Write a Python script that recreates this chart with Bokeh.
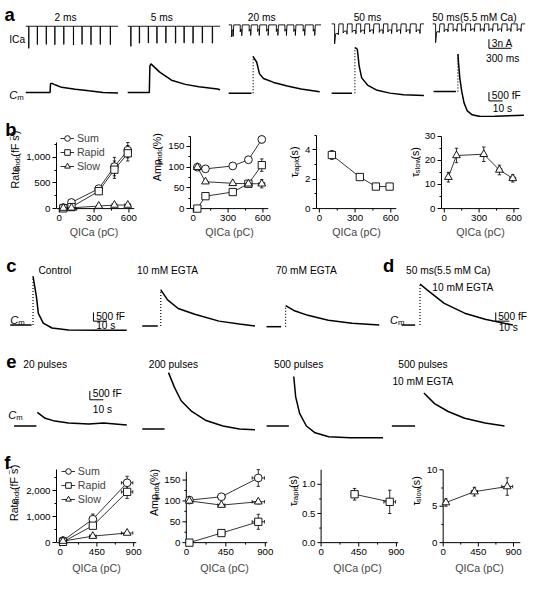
import math
from bokeh.plotting import figure
from bokeh.layouts import column, row
from bokeh.models import (Range1d, Label, ColumnDataSource, Whisker, TeeHead,
                          FixedTicker, NumeralTickFormatter, Legend, LegendItem)
from bokeh.embed import file_html
from bokeh.resources import INLINE

S = 0.971
FONT = "Liberation Sans"
WREF = 553

# ======================= DATA =======================
# ---- panel a : Ca current trains (ms, nA)
a_titles = ["2 ms", "5 ms", "20 ms", "50 ms", "50 ms(5.5 mM Ca)"]
ica_onset_ms = [40, 155, 275, 390, 510, 640, 755, 875, 1000, 1135]
ica_len_ms = 1240
ica_width_ms = [2, 5, 20, 50, 50]
ica_peak_nA = [
    [-7.3, -6.1, -6.0, -6.1, -6.0, -6.2, -6.0, -6.1, -6.0, -6.1],
    [-6.6, -5.6, -5.5, -5.6, -5.5, -5.6, -5.5, -5.6, -5.5, -5.6],
    [-4.0, -2.3, -2.1, -2.2, -2.1, -2.2, -2.1, -2.2, -2.1, -2.1],
    [-6.6, -3.0, -2.8, -2.8, -2.7, -2.8, -2.7, -2.7, -2.7, -2.7],
    [-6.2, -2.6, -2.4, -2.4, -2.3, -2.4, -2.3, -2.3, -2.3, -2.3],
]
ica_plateau_nA = [
    [-7.3, -6.1, -6.0, -6.1, -6.0, -6.2, -6.0, -6.1, -6.0, -6.1],
    [-6.6, -5.6, -5.5, -5.6, -5.5, -5.6, -5.5, -5.6, -5.5, -5.6],
    [-1.7, -1.5, -1.5, -1.5, -1.5, -1.5, -1.5, -1.5, -1.5, -1.5],
    [-3.2, -2.4, -2.2, -2.1, -2.0, -2.0, -2.0, -2.0, -2.0, -2.0],
    [-2.6, -1.9, -1.8, -1.8, -1.7, -1.7, -1.7, -1.7, -1.7, -1.7],
]
ica_tail_nA = [
    [0, 0, 0, 0, 0, 0, 0, 0, 0, 0],
    [0, 0, 0, 0, 0, 0, 0, 0, 0, 0],
    [-3.8, -3.6, -3.5, -3.5, -3.5, -3.5, -3.5, -3.5, -3.5, -3.5],
    [-3.6, -3.4, -3.3, -3.3, -3.2, -3.2, -3.2, -3.2, -3.2, -3.2],
    [-2.8, -2.6, -2.5, -2.5, -2.5, -2.5, -2.5, -2.5, -2.5, -2.5],
]

# ---- panel a : membrane capacitance (s, fF)
a_cm_pre_end_s = [17.9, 15.9, 16.8, 15.0, 16.4]
a_cm_rise = ["solid", "solid", "dotted", "dotted", "dotted"]
a_cm_t = [
    [18.2, 19.3, 22.0, 26.4, 36.4, 46.4, 56.8, 67.9],
    [16.3, 17.1, 23.3, 32.2, 42.4, 52.4, 66.0, 67.9],
    [18.0, 18.6, 20.6, 22.6, 25.6, 33.1, 43.1, 53.2, 65.7, 67.0],
    [17.1, 18.0, 18.9, 20.2, 22.1, 26.4, 32.8, 42.9, 52.9, 67.9],
    [17.9, 18.3, 19.3, 20.7, 22.4, 24.8, 28.4, 34.3, 45.0, 66.4],
]
a_cm_fF = [
    [500, 520, 420, 290, 180, 90, 0, -30],
    [1500, 1630, 1170, 700, 460, 330, 200, 150],
    [2090, 2000, 1760, 1110, 830, 610, 410, 240, 95, 70],
    [2590, 2560, 2500, 1570, 870, 460, 180, 0, -90, -130],
    [2130, 1670, 740, 0, -650, -1110, -1330, -1430, -1410, -1350],
]

# ---- panel c / d : capacitance (s, fF)
c_titles = ["Control", "10 mM EGTA", "70 mM EGTA"]
c_cm_pre_end_s = [15.7, 11.4, 10.7]
c_cm_t = [
    [16.8, 19.3, 20.7, 24.3, 30.7, 42.9, 64.3, 85.7],
    [13.6, 18.6, 26.4, 38.6, 56.4, 71.4, 82.9],
    [14.0, 20.0, 30.4, 45.4, 62.9, 82.9],
]
c_cm_fF = [
    [2780, 1610, 670, 110, -170, -280, -300, -300],
    [2070, 1500, 1000, 670, 280, 110, 0],
    [1200, 930, 650, 370, 200, 90],
]
d_titles = ["50 ms(5.5 mM Ca)", "10 mM EGTA"]
d_cm_pre_end_s = 10.0
d_cm_t = [13.6, 19.0, 31.4, 46.4, 61.4, 81.9]
d_cm_fF = [2350, 2000, 1240, 680, 330, 0]

# ---- panel e : capacitance (s, fF)
e_titles = ["20 pulses", "200 pulses", "500 pulses", "500 pulses"]
e_cm_pre_end_s = [16.4, 16.4, 16.4, 17.1]
e_cm_t = [
    [17.1, 22.9, 30.0, 40.0, 55.0, 65.7, 82.9],
    [19.3, 23.6, 28.6, 36.4, 46.4, 59.3, 71.4, 82.9],
    [20.0, 21.4, 24.3, 29.3, 35.7, 45.7, 61.4, 85.7],
    [23.6, 31.4, 41.4, 53.6, 68.6, 82.9],
]
e_cm_fF = [
    [780, 440, 280, 170, 110, 170, 55],
    [3220, 2390, 1610, 1000, 500, 170, 0, -55],
    [2830, 1670, 720, 0, -390, -610, -670, -670],
    [1890, 1280, 830, 440, 170, 0],
]

# scale bars
sb_ica_nA, sb_ica_ms = 3, 300
sb_cm_fF, sb_cm_s = 500, 10

# ---- panel b
qica_b = [35, 105, 340, 475, 590]
qica_b_err = [0, 0, 0, 20, 25]
b_rate_sum = [20, 120, 390, 820, 1140]
b_rate_sum_err = [10, 15, 30, 180, 150]
b_rate_rapid = [5, 30, 340, 760, 1080]
b_rate_rapid_err = [5, 10, 30, 170, 150]
b_rate_slow = [10, 15, 50, 70, 70]
b_rate_slow_err = [5, 5, 10, 15, 20]
b_amp_sum = [100, 96, 103, 118, 167]
b_amp_sum_err = [5, 3, 3, 5, 8]
b_amp_rapid = [0, 30, 40, 60, 105]
b_amp_rapid_err = [0, 3, 3, 5, 15]
b_amp_slow = [100, 65, 61, 60, 60]
b_amp_slow_err = [5, 3, 3, 5, 10]
qica_b_rapid = [105, 340, 475, 590]
qica_b_rapid_err = [0, 0, 20, 25]
b_tau_rapid = [3.65, 2.15, 1.5, 1.5]
b_tau_rapid_err = [0.3, 0.15, 0.1, 0.1]
b_tau_slow = [13, 22, 22.5, 16, 12.5]
b_tau_slow_err = [2, 3, 3, 2, 1.5]

# ---- panel f
qica_f = [35, 400, 820]
qica_f_err = [5, 40, 70]
f_rate_sum = [80, 900, 2300]
f_rate_sum_err = [20, 200, 250]
f_rate_rapid = [30, 650, 1950]
f_rate_rapid_err = [10, 100, 250]
f_rate_slow = [60, 250, 370]
f_rate_slow_err = [10, 40, 40]
f_amp_sum = [102, 110, 155]
f_amp_sum_err = [4, 5, 20]
f_amp_rapid = [0, 23, 50]
f_amp_rapid_err = [0, 4, 18]
f_amp_slow = [100, 90, 98]
f_amp_slow_err = [4, 4, 5]
qica_f_rapid = [400, 820]
qica_f_rapid_err = [40, 70]
f_tau_rapid = [0.83, 0.70]
f_tau_rapid_err = [0.1, 0.2]
f_tau_slow = [5.5, 7.0, 7.7]
f_tau_slow_err = [0.5, 0.6, 1.2]

# ======================= HELPERS =======================
CHAR_W = {' ': 278, '(': 333, ')': 333, '%': 889, '\u2212': 584, '1': 556, 'R': 722,
          'a': 556, 't': 278, 'e': 556, 'n': 556, 'd': 556, 'o': 556, 'f': 278,
          'F': 611, 's': 500, 'A': 667, 'm': 833, 'p': 556, 'r': 333, 'i': 222,
          'l': 222, 'w': 722, '\u03c4': 440, 'C': 722, 'c': 500}


def tw(text, size):
    return sum(CHAR_W.get(ch, 556) for ch in text) / 1000.0 * size


def fs(size):
    return f"{size * S:.2f}px"


def lab(p, x, y, text, size=10.5, align="left", baseline="middle", style="normal",
        units="data", angle=0.0):
    p.add_layout(Label(x=x, y=y, text=text, x_units=units, y_units=units,
                       text_font=FONT, text_font_size=fs(size), text_align=align,
                       text_baseline=baseline, text_font_style=style, angle=angle,
                       text_color="black"))


def cm_label(p, x, y):
    lab(p, x, y, "C", size=11.5, style="italic", baseline="alphabetic")
    lab(p, x + tw("C", 11.5), y + 2.5, "m", size=8, baseline="alphabetic")


def canvas_fig(x0, x1, top, bottom):
    p = figure(width=round(x1 * S) - round(x0 * S), height=round(bottom * S) - round(top * S),
               x_range=Range1d(x0, x1), y_range=Range1d(bottom, top),
               x_axis_type=None, y_axis_type=None, output_backend="svg",
               toolbar_location=None, min_border=0)
    p.outline_line_color = None
    return p


def add_ranges(p, name, ox, oy, kx, ky, top, bottom):
    p.extra_x_ranges[name] = Range1d(start=-ox / kx, end=(WREF - ox) / kx)
    p.extra_y_ranges[name] = Range1d(start=(oy - bottom) / ky, end=(oy - top) / ky)


CM_KX, CM_KY = 1.4, 0.018
ICA_KX, ICA_KY = 0.0767, 3.1


def draw_cm(p, name, pre_end, rise, t, v):
    kw = dict(x_range_name=name, y_range_name=name, line_color="black", line_width=1.5)
    if rise == "solid":
        p.line([0, pre_end] + list(t), [0, 0] + list(v), **kw)
    else:
        p.line([0, pre_end], [0, 0], **kw)
        if rise == "dotted":
            p.line([t[0], t[0]], [0, v[0]], x_range_name=name, y_range_name=name,
                   line_color="black", line_width=1.2, line_dash="1 2")
        p.line(list(t), list(v), **kw)


def build_ica(k):
    w = ica_width_ms[k]
    t, v = [0.0], [0.0]
    for o, pk, pl, tl in zip(ica_onset_ms, ica_peak_nA[k], ica_plateau_nA[k], ica_tail_nA[k]):
        t += [o, o, o + 0.3 * w, o + w, o + w, o + w + 8]
        v += [0, pk, pl, pl, tl, 0]
    t.append(ica_len_ms)
    v.append(0)
    return t, v


def scale_bar(p, name, cx, cy, kx, ky, dx, dy, top, bottom):
    add_ranges(p, name, cx, cy, kx, ky, top, bottom)
    p.line([0, 0, dx], [dy, 0, 0], x_range_name=name, y_range_name=name,
           line_color="black", line_width=1)


# ======================= PANEL A =======================
A_TOP, A_BOT = 0, 120
pa = canvas_fig(0, WREF, A_TOP, A_BOT)
A_CM_ORIGIN = [(26, 94.3), (131, 94.3), (235, 95.0), (341, 95.0), (446, 93.3)]
A_ICA_ORIGIN = [(26, 26.4), (131, 26.4), (235, 25.0), (341, 24.0), (445, 24.0)]
A_TITLE_X = [67, 166, 269, 378, 488]
for k in range(5):
    nm = f"ica{k}"
    add_ranges(pa, nm, A_ICA_ORIGIN[k][0], A_ICA_ORIGIN[k][1], ICA_KX, ICA_KY, A_TOP, A_BOT)
    t, v = build_ica(k)
    pa.line(t, v, x_range_name=nm, y_range_name=nm, line_color="black", line_width=0.9)
    nm = f"acm{k}"
    add_ranges(pa, nm, A_CM_ORIGIN[k][0], A_CM_ORIGIN[k][1], CM_KX, CM_KY, A_TOP, A_BOT)
    draw_cm(pa, nm, a_cm_pre_end_s[k], a_cm_rise[k], a_cm_t[k], a_cm_fF[k])
    lab(pa, A_TITLE_X[k], 17, a_titles[k], align="center")
lab(pa, 4, 14, "a", size=19, style="bold", baseline="alphabetic")
lab(pa, 9, 40, "ICa")
cm_label(pa, 9, 97)
scale_bar(pa, "sb_a1", 503, 49, ICA_KX, ICA_KY, sb_ica_ms, sb_ica_nA, A_TOP, A_BOT)
lab(pa, 506, 44, "3n A")
lab(pa, 500, 59, "300 ms")
scale_bar(pa, "sb_a2", 503, 103, CM_KX, CM_KY, sb_cm_s, sb_cm_fF, A_TOP, A_BOT)
lab(pa, 506, 97.5, "500 fF")
lab(pa, 507, 111, "10 s")

# ======================= PANELS C, D, E =======================
M_TOP, M_BOT = 250, 455
pm = canvas_fig(0, WREF, M_TOP, M_BOT)
C_ORIGIN = [(10, 334), (146, 335), (274, 335.7)]
C_TITLE_X = [56, 172, 315]
for k in range(3):
    nm = f"c{k}"
    add_ranges(pm, nm, C_ORIGIN[k][0], C_ORIGIN[k][1], CM_KX, CM_KY, M_TOP, M_BOT)
    draw_cm(pm, nm, c_cm_pre_end_s[k], "dotted", c_cm_t[k], c_cm_fF[k])
    lab(pm, C_TITLE_X[k], 278, c_titles[k], align="center")
D_ORIGIN = (413, 334)
add_ranges(pm, "d0", D_ORIGIN[0], D_ORIGIN[1], CM_KX, CM_KY, M_TOP, M_BOT)
draw_cm(pm, "d0", d_cm_pre_end_s, "dotted", d_cm_t, d_cm_fF)
lab(pm, 461, 278, d_titles[0], align="center")
lab(pm, 476, 295, d_titles[1], align="center")
E_ORIGIN = [(14, 438), (146, 441), (274, 438), (403, 438)]
E_TITLE_X = [46, 178, 307, 435]
for k in range(4):
    nm = f"e{k}"
    add_ranges(pm, nm, E_ORIGIN[k][0], E_ORIGIN[k][1], CM_KX, CM_KY, M_TOP, M_BOT)
    draw_cm(pm, nm, e_cm_pre_end_s[k], "none", e_cm_t[k], e_cm_fF[k])
    lab(pm, E_TITLE_X[k], 375, e_titles[k], align="center")
lab(pm, 435, 392, "10 mM EGTA", align="center")
lab(pm, 6, 273, "c", size=19, style="bold", baseline="alphabetic")
lab(pm, 394, 273, "d", size=19, style="bold", baseline="alphabetic")
lab(pm, 6, 372, "e", size=19, style="bold", baseline="alphabetic")
cm_label(pm, 10, 329)
cm_label(pm, 401, 329)
cm_label(pm, 8, 427)
scale_bar(pm, "sb_c", 95.7, 330, CM_KX, CM_KY, sb_cm_s, sb_cm_fF, M_TOP, M_BOT)
lab(pm, 98.5, 325, "500 fF")
lab(pm, 98.5, 334.5, "10 s")
scale_bar(pm, "sb_d", 510, 330, CM_KX, CM_KY, sb_cm_s, sb_cm_fF, M_TOP, M_BOT)
lab(pm, 512.5, 325, "500 fF")
lab(pm, 513, 337, "10 s")
scale_bar(pm, "sb_e", 92, 411, CM_KX, CM_KY, sb_cm_s, sb_cm_fF, M_TOP, M_BOT)
lab(pm, 95, 405, "500 fF")
lab(pm, 95, 421, "10 s")

# ======================= SMALL PLOTS =======================
RATE = [("Rate", 11, 0), ("endo", 8, 2.5), (" (fF s", 11, 0), ("\u22121", 8, -4.5), (")", 11, 0)]
AMP = [("Amp", 11, 0), ("endo", 8, 2.5), (" (%)", 11, 0)]
TRAP = [("\u03c4", 11, 0), ("rapid", 8, 2.5), (" (s)", 11, 0)]
TSLO = [("\u03c4", 11, 0), ("slow", 8, 2.5), (" (s)", 11, 0)]


def vlabel(p, segs, xbase, cy):
    """Rotated label built from pieces; data units are reference pixels (y downward)."""
    total = sum(tw(t, s) for t, s, _ in segs)
    y = cy + total / 2
    for text, size, shift in segs:
        stripped = text.lstrip(" ")
        lead = tw(text[:len(text) - len(stripped)], size)
        lab(p, xbase + shift, y - lead, stripped, size=size, baseline="alphabetic",
            angle=math.pi / 2)
        y -= tw(text, size)


def small_pair(cfg, row_top, row_bot):
    s0, s1 = cfg["slice"]
    le = cfg["lab_end"]
    lf = canvas_fig(s0, le, row_top, row_bot)
    vlabel(lf, cfg["ylab"], cfg["ylab_x"], cfg["ylab_y"])

    fl, fr, ft, y0 = cfg["fl"], cfg["fr"], cfg["ft"], cfg["y0"]
    fb = y0 + 5
    ftop = row_top + 3
    ytop = cfg["ytop"]
    ky = (y0 - ft) / ytop
    xs, xe = cfg["xr"]
    kx = (fr - fl) / (xe - xs)
    p = figure(width=round(s1 * S) - round(le * S),
               height=round(row_bot * S) - round(row_top * S),
               x_range=Range1d(xs, xe), y_range=Range1d(-5 / ky, (y0 - ftop) / ky),
               min_border_left=round(fl * S) - round(le * S),
               min_border_right=round(s1 * S) - round(fr * S),
               min_border_top=round(ftop * S) - round(row_top * S),
               min_border_bottom=round(row_bot * S) - round(fb * S),
               output_backend="svg", toolbar_location=None)
    p.grid.visible = False
    p.outline_line_color = None
    for ax in p.axis:
        ax.major_label_text_font = FONT
        ax.major_label_text_font_size = fs(10)
        ax.major_label_text_color = "black"
    # x axis: labels from the real axis, line and ticks at y = 0
    xa = p.xaxis[0]
    xa.ticker = FixedTicker(ticks=cfg["xt"], minor_ticks=cfg["xm"])
    xa.axis_line_color = None
    xa.major_tick_line_color = None
    xa.minor_tick_line_color = None
    xa.major_tick_out = 0
    xa.minor_tick_out = 0
    xa.major_label_standoff = 1
    xa.axis_label = cfg["xlab"]
    xa.axis_label_text_font = FONT
    xa.axis_label_text_font_size = fs(11)
    xa.axis_label_text_font_style = "normal"
    xa.axis_label_standoff = cfg["xlab_standoff"]
    x_start_line = 0 if cfg.get("yfixed") else xs
    p.line([x_start_line, xe], [0, 0], line_color="black", line_width=1)
    p.segment(x0=cfg["xt"], y0=[0] * len(cfg["xt"]), x1=cfg["xt"], y1=[-4 / ky] * len(cfg["xt"]),
              line_color="black", line_width=1)
    p.segment(x0=cfg["xm"], y0=[0] * len(cfg["xm"]), x1=cfg["xm"], y1=[-2 / ky] * len(cfg["xm"]),
              line_color="black", line_width=1)
    ya = p.yaxis[0]
    ya.ticker = FixedTicker(ticks=cfg["yt"], minor_ticks=cfg["ym"])
    if cfg.get("fmt"):
        ya.formatter = NumeralTickFormatter(format=cfg["fmt"])
    if cfg.get("yfixed"):
        ya.axis_line_color = None
        ya.major_tick_line_color = None
        ya.minor_tick_line_color = None
        ya.major_tick_out = 0
        ya.minor_tick_out = 0
        ya.major_label_standoff = 1
        p.line([0, 0], [0, ytop], line_color="black", line_width=1)
        p.segment(x0=[0] * len(cfg["yt"]), y0=cfg["yt"], x1=[-4 / kx] * len(cfg["yt"]),
                  y1=cfg["yt"], line_color="black", line_width=1)
        p.segment(x0=[0] * len(cfg["ym"]), y0=cfg["ym"], x1=[-2 / kx] * len(cfg["ym"]),
                  y1=cfg["ym"], line_color="black", line_width=1)
    else:
        ya.bounds = (0, ytop)
        ya.axis_line_color = "black"
        ya.axis_line_width = 1
        ya.major_tick_out = 4
        ya.major_tick_in = 0
        ya.minor_tick_out = 2
        ya.minor_tick_in = 0
        ya.major_tick_line_color = "black"
        ya.minor_tick_line_color = "black"
        ya.major_label_standoff = 2
    p._fb = fb
    p._fl = fl
    return lf, p


def series(p, x, y, marker, ey=None, ex=None, size=8):
    rl = p.line(x, y, line_color="black", line_width=0.8)
    if ey is not None:
        idx = [i for i, e in enumerate(ey) if e > 0]
        src = ColumnDataSource(dict(x=[x[i] for i in idx], lo=[y[i] - ey[i] for i in idx],
                                    hi=[y[i] + ey[i] for i in idx]))
        p.add_layout(Whisker(source=src, base="x", lower="lo", upper="hi", dimension="height",
                             line_color="black", line_width=0.8, level="underlay",
                             upper_head=TeeHead(size=3.5 * S, line_width=0.8),
                             lower_head=TeeHead(size=3.5 * S, line_width=0.8)))
    if ex is not None:
        idx = [i for i, e in enumerate(ex) if e > 0]
        src = ColumnDataSource(dict(y=[y[i] for i in idx], lo=[x[i] - ex[i] for i in idx],
                                    hi=[x[i] + ex[i] for i in idx]))
        p.add_layout(Whisker(source=src, base="y", lower="lo", upper="hi", dimension="width",
                             line_color="black", line_width=0.8, level="underlay",
                             upper_head=TeeHead(size=3.5 * S, line_width=0.8),
                             lower_head=TeeHead(size=3.5 * S, line_width=0.8)))
    rs = p.scatter(x, y, marker=marker, size=size * S, fill_color="white",
                   line_color="black", line_width=0.9)
    return rl, rs


def add_legend(p, items, left_px, bottom_px):
    leg = Legend(items=[LegendItem(label=l, renderers=list(r)) for l, r in items],
                 location=((left_px - p._fl) * S, (p._fb - bottom_px) * S),
                 label_text_font=FONT, label_text_font_size=fs(11),
                 glyph_width=round(14 * S), glyph_height=round(14.5 * S),
                 label_height=round(14.5 * S), spacing=0, padding=0, margin=0,
                 label_standoff=round(3 * S), border_line_color=None,
                 background_fill_alpha=0)
    p.add_layout(leg)


B_TOP, B_BOT = 120, 250
F_TOP, F_BOT = 455, 600
BX = dict(xr=(-24, 648), xt=[0, 300, 600], xm=[150, 450], y0=214, xlab_standoff=2)
FX = dict(xt=[0, 450, 900], xm=[225, 675], y0=558, xlab_standoff=4)

lb1, b1 = small_pair(dict(BX, slice=(0, 146), lab_end=24, fl=54, fr=138, ft=146, ytop=1300,
                          yt=[0, 500, 1000], ym=[250, 750, 1250], fmt="0,0", xlab="QICa  (pC)",
                          ylab=RATE, ylab_x=15, ylab_y=176), B_TOP, B_BOT)
r1 = series(b1, qica_b, b_rate_sum, "circle", b_rate_sum_err, qica_b_err)
r2 = series(b1, qica_b, b_rate_rapid, "square", b_rate_rapid_err, qica_b_err, size=7.5)
r3 = series(b1, qica_b, b_rate_slow, "triangle", b_rate_slow_err, qica_b_err)
add_legend(b1, [("Sum", r1), ("Rapid", r2), ("Slow", r3)], 58, 178)
lab(lb1, 5, 134, "b", size=19, style="bold", baseline="alphabetic")

lb2, b2 = small_pair(dict(BX, slice=(146, 287), lab_end=170, fl=192, fr=276, ft=140, ytop=175,
                          yt=[0, 50, 100, 150], ym=[25, 75, 125, 175], xlab="QICa (pC)",
                          ylab=AMP, ylab_x=161, ylab_y=175), B_TOP, B_BOT)
series(b2, qica_b, b_amp_sum, "circle", b_amp_sum_err, qica_b_err)
series(b2, qica_b, b_amp_rapid, "square", b_amp_rapid_err, qica_b_err, size=7.5)
series(b2, qica_b, b_amp_slow, "triangle", b_amp_slow_err, qica_b_err)

lb3, b3 = small_pair(dict(BX, slice=(287, 417), lab_end=311, fl=324, fr=408, ft=139, ytop=5,
                          yt=[0, 2, 4], ym=[1, 3, 5], xlab="QICa (pC)", ylab=TRAP,
                          ylab_x=302, ylab_y=181), B_TOP, B_BOT)
series(b3, qica_b_rapid, b_tau_rapid, "square", b_tau_rapid_err, qica_b_rapid_err, size=7.5)

lb4, b4 = small_pair(dict(BX, slice=(417, 553), lab_end=434, fl=451, fr=535, ft=140, ytop=30,
                          yt=[0, 10, 20, 30], ym=[5, 15, 25], xlab="QICa (pC)", ylab=TSLO,
                          ylab_x=427, ylab_y=181), B_TOP, B_BOT)
series(b4, qica_b, b_tau_slow, "triangle", b_tau_slow_err, qica_b_err)

lf1, f1 = small_pair(dict(FX, slice=(0, 146), lab_end=24, fl=54, fr=140, ft=483, xr=(-45, 935),
                          ytop=2800, yt=[0, 1000, 2000], ym=[500, 1500, 2500], fmt="0,0",
                          xlab="QICa (pC)", ylab=RATE, ylab_x=14, ylab_y=523), F_TOP, F_BOT)
g1 = series(f1, qica_f, f_rate_sum, "circle", f_rate_sum_err, qica_f_err)
g2 = series(f1, qica_f, f_rate_rapid, "square", f_rate_rapid_err, qica_f_err, size=7.5)
g3 = series(f1, qica_f, f_rate_slow, "triangle", f_rate_slow_err, qica_f_err)
add_legend(f1, [("Sum", g1), ("Rapid", g2), ("Slow", g3)], 59, 521)
lab(lf1, 4, 479, "f", size=19, style="bold", baseline="alphabetic")

lf2, f2 = small_pair(dict(FX, slice=(146, 287), lab_end=166, fl=186, fr=275, ft=485,
                          xr=(-55, 925), ytop=170, yt=[0, 50, 100, 150], ym=[25, 75, 125],
                          xlab="QICa (pC)", ylab=AMP, ylab_x=158, ylab_y=525, yfixed=True),
                     F_TOP, F_BOT)
series(f2, qica_f, f_amp_sum, "circle", f_amp_sum_err, qica_f_err)
series(f2, qica_f, f_amp_rapid, "square", f_amp_rapid_err, qica_f_err, size=7.5)
series(f2, qica_f, f_amp_slow, "triangle", f_amp_slow_err, qica_f_err)

lf3, f3 = small_pair(dict(FX, slice=(287, 417), lab_end=308, fl=322, fr=410, ft=483,
                          xr=(-55, 925), ytop=1.25, yt=[0, 0.5, 1.0], ym=[0.25, 0.75],
                          fmt="0.0", xlab="QICa (pC)", ylab=TRAP, ylab_x=301, ylab_y=522,
                          yfixed=True), F_TOP, F_BOT)
series(f3, qica_f_rapid, f_tau_rapid, "square", f_tau_rapid_err, qica_f_rapid_err, size=7.5)

lf4, f4 = small_pair(dict(FX, slice=(417, 553), lab_end=436, fl=448, fr=536, ft=483,
                          xr=(-60, 990), ytop=10, yt=[0, 5, 10], ym=[2.5, 7.5],
                          xlab="QICa (pC)", ylab=TSLO, ylab_x=428, ylab_y=522, yfixed=True),
                     F_TOP, F_BOT)
series(f4, qica_f, f_tau_slow, "triangle", f_tau_slow_err, qica_f_err)

layout = column(pa,
                row(lb1, b1, lb2, b2, lb3, b3, lb4, b4, spacing=0),
                pm,
                row(lf1, f1, lf2, f2, lf3, f3, lf4, f4, spacing=0),
                spacing=0)
open("out.html", "w").write(file_html(layout, INLINE))
